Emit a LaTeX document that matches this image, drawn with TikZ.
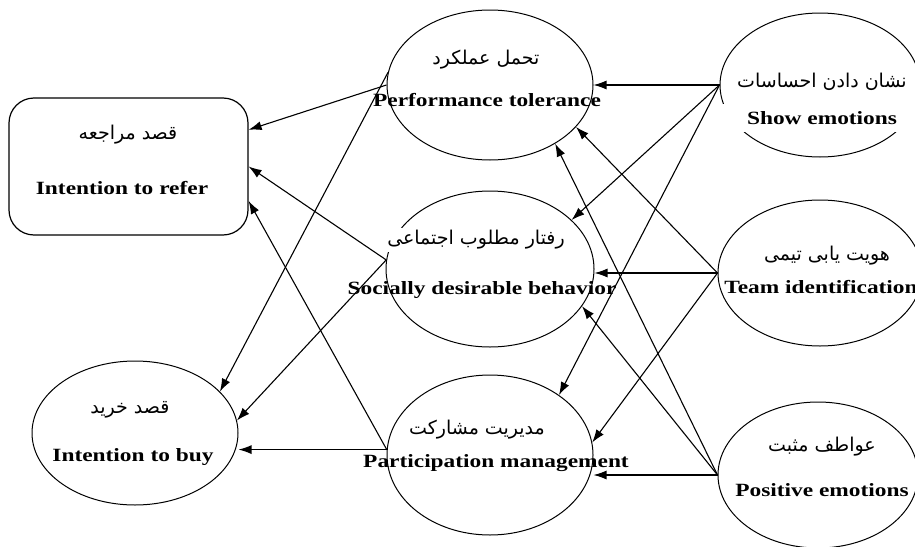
\documentclass[tikz,border=0pt]{standalone}
\usepackage{fontspec}
\setmainfont{Liberation Serif}
\newfontfamily\enfont[FakeStretch=1.25]{Liberation Serif}
\newfontfamily\arabicfont[Script=Arabic]{DejaVu Sans}
\TeXXeTstate=1
\usetikzlibrary{shapes.geometric,arrows.meta}

\begin{document}
\begin{tikzpicture}[x          = {(1pt,0pt)},
                    y          = {(0pt,-1pt)},
                    line width = 1pt]
% style of constructs, labels and paths
\tikzset{construct/.style={ellipse,draw,inner sep=0pt},
         entext/.style={font=\enfont\bfseries\fontsize{18.7}{21}\selectfont,inner sep=1pt},
         fatext/.style={font=\arabicfont\fontsize{19}{22}\selectfont,inner sep=2pt},
         link/.style={-{Latex[length=13pt,width=9pt]},line width=1.1pt}}
% frame
\useasboundingbox (0,0) rectangle (915,546);
\clip (0,0) rectangle (915,546);
% outcomes
\node[draw,rounded corners=25pt,minimum width=239pt,minimum height=137pt,line width=1.2pt] (refer) at (128.5,166.5) {};
\node[construct,minimum width=206pt,minimum height=144pt] (buy) at (135,433) {};
% mediators
\node[construct,minimum width=206pt,minimum height=150pt] (pt)  at (490,85)  {};
\node[construct,minimum width=208pt,minimum height=156pt] (sdb) at (490,269) {};
\node[construct,minimum width=206pt,minimum height=160pt] (pm)  at (490,455) {};
% antecedents
\node[construct,minimum width=200pt,minimum height=144pt] (se) at (820,85)  {};
\node[construct,minimum width=204pt,minimum height=146pt] (ti) at (820,273) {};
\node[construct,minimum width=200pt,minimum height=146pt] (pe) at (818,475) {};
% labels
\node[fatext] (refer-fa) at (128,135) {\beginR قصد مراجعه\endR};
\node[entext] (refer-en) at (122,188) {Intention to refer};
\node[fatext] (buy-fa) at (130,410) {\beginR قصد خرید\endR};
\node[entext] (buy-en) at (133,457) {Intention to buy};
\node[fatext] (pt-fa) at (486,60) {\beginR تحمل عملکرد\endR};
\node[entext] (pt-en) at (487,100) {Performance tolerance};
\node[fatext,fill=white] (sdb-fa) at (476,240) {\beginR رفتار مطلوب اجتماعی\endR};
\node[entext] (sdb-en) at (482,290) {Socially desirable behavior};
\node[fatext] (pm-fa) at (477,430) {\beginR مدیریت مشارکت\endR};
\node[entext] (pm-en) at (496,463) {Participation management};
\node[fatext] (se-fa) at (822,82) {\beginR نشان دادن احساسات\endR};
\node[entext,fill=white,minimum width=198pt,minimum height=28pt] (se-en) at (822,118) {Show emotions};
\node[fatext] (ti-fa) at (827,256) {\beginR هویت یابی تیمی\endR};
\node[entext] (ti-en) at (821,287) {Team identification};
\node[fatext] (pe-fa) at (822,447) {\beginR عواطف مثبت\endR};
\node[entext] (pe-en) at (822,490) {Positive emotions};
% paths to intention to refer
\draw[link] (pt.180)  -- (refer.17);
\draw[link] (sdb.175) -- (refer.0);
\draw[link] (pm.177)  -- (refer.-16);
% paths to intention to buy
\draw[link] (pt.173)  -- (buy.26);
\draw[link] (sdb.175) -- (buy.7);
\draw[link] (pm.177)  -- (pm.177 -| buy.east);
% paths from show emotions
\draw[link] (se.west) -- (pt.0);
\draw[link] (se.west) -- (sdb.31);
\draw[link] (se.west) -- (pm.41);
% paths from team identification
\draw[link] (ti.west) -- (pt.-26);
\draw[link] (ti.west) -- (ti.west -| sdb.east);
\draw[link] (ti.west) -- (pm.7);
% paths from positive emotions
\draw[link] (pe.west) -- (pt.-42);
\draw[link] (pe.west) -- (sdb.-22);
\draw[link] (pe.west) -- (pe.west -| pm.east);
\end{tikzpicture}
\end{document}
